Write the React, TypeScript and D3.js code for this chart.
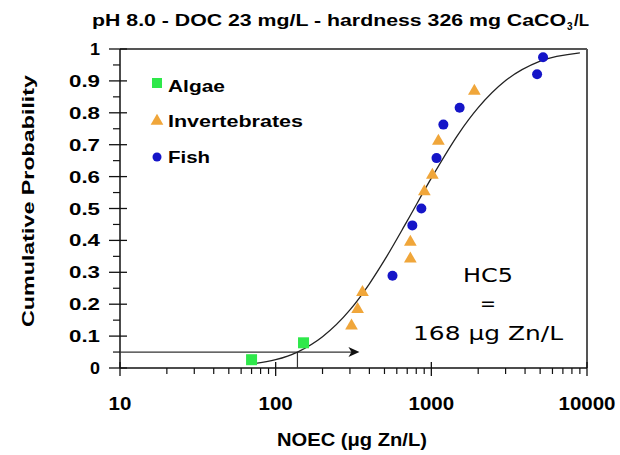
import * as d3 from 'd3'

// species sensitivity data: NOEC (ug Zn/L) vs cumulative probability
const algaeX = [70, 151]
const algaeP = [0.026, 0.079]
const invertX = [307, 336, 361, 733, 733, 902, 1015, 1110, 1890]
const invertP = [0.132, 0.184, 0.237, 0.342, 0.395, 0.553, 0.605, 0.711, 0.868]
const fishX = [563, 755, 863, 1080, 1195, 1520, 4780, 5220]
const fishP = [0.289, 0.447, 0.5, 0.658, 0.763, 0.816, 0.921, 0.974]

// fitted curve
const curveX = [69, 100, 138, 200, 300, 400, 500, 700, 1000, 1500, 2000, 3000, 5000, 9000]
const curveP = [0.012, 0.026, 0.05, 0.098, 0.182, 0.264, 0.338, 0.461, 0.595, 0.735, 0.816, 0.901, 0.962, 0.988]

const hc5Value = 138
const hc5P = 0.05
const hc5Text = ['HC5', '=', '168 μg Zn/L']

const xTickValues = [10, 100, 1000, 10000]
const yTickValues = [0, 0.1, 0.2, 0.3, 0.4, 0.5, 0.6, 0.7, 0.8, 0.9, 1]

const title = 'pH 8.0 - DOC 23 mg/L - hardness 326 mg CaCO'
const W = 620
const H = 455
const left = 120
const right = 587
const top = 49
const bottom = 368

const font = "'Liberation Sans', Arial, sans-serif"

export default function App() {
  const x = d3.scaleLog().domain([10, 10000]).range([left, right])
  const y = d3.scaleLinear().domain([0, 1]).range([bottom, top])

  const minorX: number[] = []
  for (const d of [10, 100, 1000]) for (let k = 2; k <= 9; k++) minorX.push(d * k)
  const minorY = d3.range(0, 10).map(i => i / 10 + 0.05)

  const line = d3
    .line<number>()
    .x(i => x(curveX[i]))
    .y(i => y(curveP[i]))
    .curve(d3.curveMonotoneX)

  const tipX = x(hc5Value) + 62
  const arrowY = y(hc5P)
  const tri = d3.symbol().type(d3.symbolTriangle).size(70)()

  return (
    <svg width={W} height={H} style={{ position: 'absolute', left: 0, top: 0, background: '#fff' }}>
      {/* title */}
      <text x={92} y={26} fontFamily={font} fontWeight="bold" fontSize={17} textLength={474} lengthAdjust="spacingAndGlyphs">
        {title}
      </text>
      <text x={567} y={30} fontFamily={font} fontWeight="bold" fontSize={10}>3</text>
      <text x={574} y={26} fontFamily={font} fontWeight="bold" fontSize={17} textLength={15} lengthAdjust="spacingAndGlyphs">/L</text>

      {/* frame */}
      <line x1={left} x2={right} y1={top} y2={top} stroke="#555" strokeWidth={2} />
      <line x1={right} x2={right} y1={top} y2={bottom} stroke="#555" strokeWidth={2} />
      <line x1={left} x2={left} y1={top} y2={bottom} stroke="#111" strokeWidth={1.5} />
      <line x1={left} x2={right} y1={bottom} y2={bottom} stroke="#111" strokeWidth={1.5} />

      {/* y ticks */}
      {yTickValues.map(v => (
        <g key={'y' + v}>
          <line x1={left - 11} x2={left + 7} y1={y(v)} y2={y(v)} stroke="#111" strokeWidth={1.3} />
          <text
            x={100}
            y={y(v) + 6}
            textAnchor="end"
            fontFamily={font}
            fontWeight="bold"
            fontSize={17}
            textLength={String(v).length > 1 ? 31 : 10}
            lengthAdjust="spacingAndGlyphs"
          >
            {String(v)}
          </text>
        </g>
      ))}
      {minorY.map(v => (
        <line key={'my' + v} x1={left - 7} x2={left} y1={y(v)} y2={y(v)} stroke="#111" strokeWidth={1.2} />
      ))}

      {/* x ticks */}
      {xTickValues.map(v => (
        <g key={'x' + v}>
          <line x1={x(v)} x2={x(v)} y1={bottom - 6} y2={bottom + 8} stroke="#111" strokeWidth={1.3} />
          <text
            x={x(v)}
            y={410}
            textAnchor="middle"
            fontFamily={font}
            fontWeight="bold"
            fontSize={18}
            textLength={String(v).length * 11.4}
            lengthAdjust="spacingAndGlyphs"
          >
            {String(v)}
          </text>
        </g>
      ))}
      {minorX.map(v => (
        <line key={'mx' + v} x1={x(v)} x2={x(v)} y1={bottom} y2={bottom + 6} stroke="#111" strokeWidth={1.2} />
      ))}

      {/* axis titles */}
      <text x={352} y={446} textAnchor="middle" fontFamily={font} fontWeight="bold" fontSize={18} textLength={150} lengthAdjust="spacingAndGlyphs">
        NOEC (μg Zn/L)
      </text>
      <text
        transform="translate(34,201) rotate(-90)"
        textAnchor="middle"
        fontFamily={font}
        fontWeight="bold"
        fontSize={17}
        textLength={252}
        lengthAdjust="spacingAndGlyphs"
      >
        Cumulative Probability
      </text>

      {/* HC5 arrow */}
      <line x1={left} x2={tipX - 3} y1={arrowY} y2={arrowY} stroke="#333" strokeWidth={1.3} />
      <path d={`M${tipX},${arrowY} L${tipX - 11},${arrowY - 5} L${tipX - 8},${arrowY} L${tipX - 11},${arrowY + 5} Z`} fill="#111" />
      <line x1={x(hc5Value)} x2={x(hc5Value)} y1={arrowY} y2={bottom} stroke="#333" strokeWidth={1.2} />

      {/* fitted curve */}
      <path d={line(d3.range(curveX.length)) ?? ''} fill="none" stroke="#222" strokeWidth={1.3} />

      {/* points */}
      {algaeX.map((v, i) => (
        <rect key={'a' + i} x={x(v) - 5.5} y={y(algaeP[i]) - 5.5} width={11} height={11} fill="#2ee84a" />
      ))}
      {invertX.map((v, i) => (
        <path key={'i' + i} d={tri ?? ''} transform={`translate(${x(v)},${y(invertP[i])})`} fill="#f0a63a" />
      ))}
      {fishX.map((v, i) => (
        <circle key={'f' + i} cx={x(v)} cy={y(fishP[i])} r={5} fill="#1515c8" />
      ))}

      {/* legend */}
      <rect x={152} y={78} width={10} height={10} fill="#2ee84a" />
      <text x={168} y={92} fontFamily={font} fontWeight="bold" fontSize={17} textLength={57} lengthAdjust="spacingAndGlyphs">Algae</text>
      <path d={tri ?? ''} transform="translate(157,121)" fill="#f0a63a" />
      <text x={168} y={127} fontFamily={font} fontWeight="bold" fontSize={17} textLength={135} lengthAdjust="spacingAndGlyphs">Invertebrates</text>
      <circle cx={157} cy={157} r={4.5} fill="#1515c8" />
      <text x={168} y={163} fontFamily={font} fontWeight="bold" fontSize={17} textLength={42} lengthAdjust="spacingAndGlyphs">Fish</text>

      {/* HC5 annotation */}
      <text x={488} y={282} textAnchor="middle" fontFamily="'DejaVu Sans', sans-serif" fontSize={19} textLength={50} lengthAdjust="spacingAndGlyphs">{hc5Text[0]}</text>
      <text x={488} y={310} textAnchor="middle" fontFamily="'DejaVu Sans', sans-serif" fontSize={19}>{hc5Text[1]}</text>
      <text x={488} y={340} textAnchor="middle" fontFamily="'DejaVu Sans', sans-serif" fontSize={19} textLength={150} lengthAdjust="spacingAndGlyphs">{hc5Text[2]}</text>
    </svg>
  )
}
